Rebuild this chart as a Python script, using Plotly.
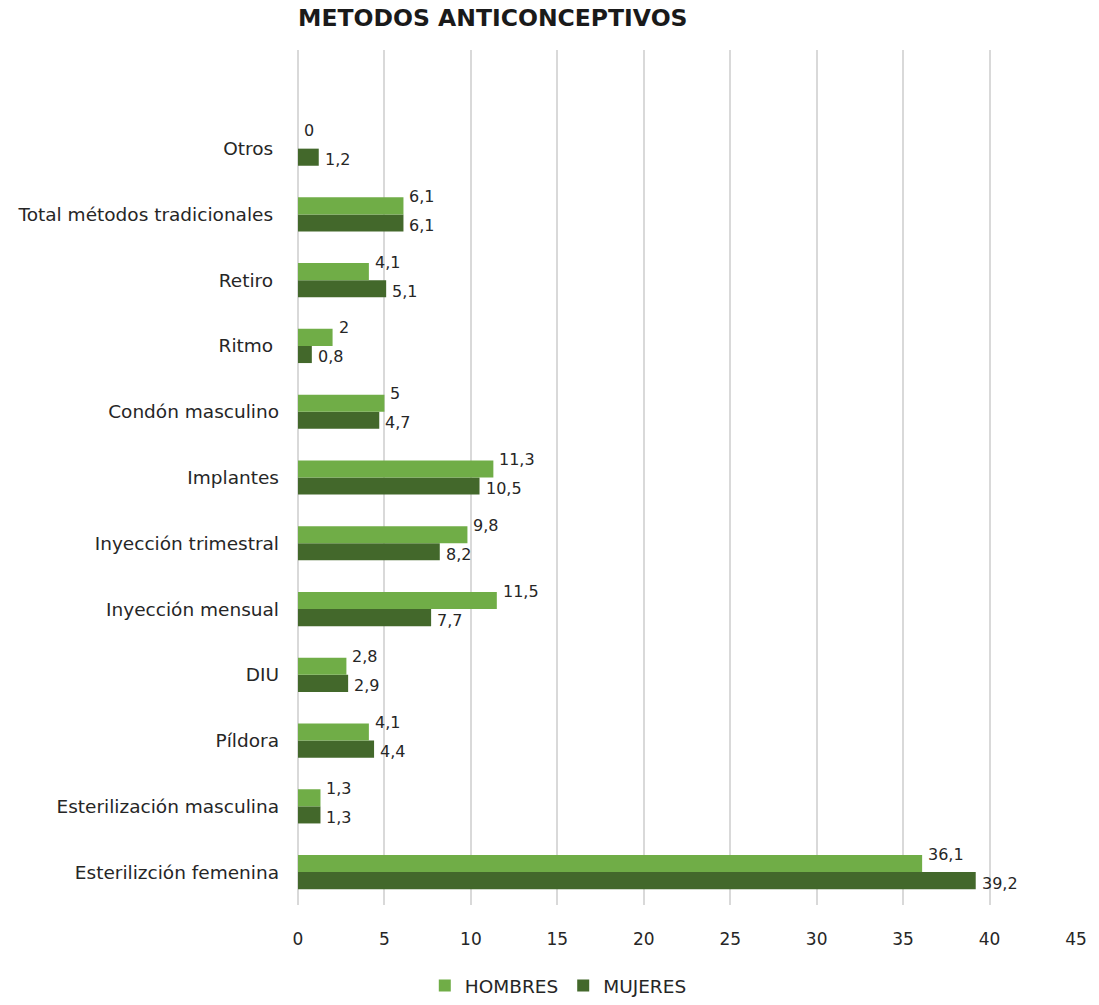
import plotly.graph_objects as go

# Categories listed bottom-to-top as they appear on the chart
categorias = [
    "Esterilizción femenina",
    "Esterilización masculina",
    "Píldora",
    "DIU",
    "Inyección mensual",
    "Inyección trimestral",
    "Implantes",
    "Condón masculino",
    "Ritmo\u00a0",
    "Retiro\u00a0",
    "Total métodos tradicionales\u00a0",
    "Otros\u00a0",
]
hombres = [36.1, 1.3, 4.1, 2.8, 11.5, 9.8, 11.3, 5, 2, 4.1, 6.1, 0]
mujeres = [39.2, 1.3, 4.4, 2.9, 7.7, 8.2, 10.5, 4.7, 0.8, 5.1, 6.1, 1.2]
x_ticks = [0, 5, 10, 15, 20, 25, 30, 35, 40, 45]

COLOR_H = "#70AD47"
COLOR_M = "#43682B"
TEXT = "#262626"
FONT = "'DejaVu Sans', sans-serif"
FS_VAL = 16
FS_CAT = 18.5


def fmt(v):
    return f"{v:g}".replace(".", ",")


fig = go.Figure()

# Mujeres first so that it sits below Hombres within each group
fig.add_trace(go.Bar(
    name="MUJERES", y=categorias, x=mujeres, orientation="h",
    marker=dict(color=COLOR_M, line=dict(width=0)),
    legendrank=2,
))
fig.add_trace(go.Bar(
    name="HOMBRES", y=categorias, x=hombres, orientation="h",
    marker=dict(color=COLOR_H, line=dict(width=0)),
    legendrank=1,
))

# Value labels just past the end of each bar
annotations = []
for cat, h, m in zip(categorias, hombres, mujeres):
    annotations.append(dict(
        x=h, y=cat, text=fmt(h), showarrow=False,
        xanchor="left", yanchor="middle", xshift=4, yshift=18,
        font=dict(size=FS_VAL, color=TEXT, family=FONT),
    ))
    annotations.append(dict(
        x=m, y=cat, text=fmt(m), showarrow=False,
        xanchor="left", yanchor="middle", xshift=4, yshift=-11,
        font=dict(size=FS_VAL, color=TEXT, family=FONT),
    ))

fig.update_layout(
    width=1099, height=1005,
    barmode="group", bargap=0.48, bargroupgap=0,
    plot_bgcolor="white", paper_bgcolor="white",
    separators=",.",
    font=dict(family=FONT, size=FS_VAL, color=TEXT),
    margin=dict(l=298, r=20, t=50, b=100),
    title=dict(
        text="<b>METODOS ANTICONCEPTIVOS</b>",
        x=298 / 1099, xanchor="left", xref="container",
        y=1 - 18 / 1005, yanchor="middle", yref="container",
        font=dict(size=23.5, color="#1a1a1a", family=FONT),
    ),
    legend=dict(
        orientation="h", xref="container", yref="container",
        x=0.508, xanchor="center", y=-0.013, yanchor="bottom",
        font=dict(size=18.5, color=TEXT, family=FONT),
        itemwidth=30, tracegroupgap=0,
    ),
    annotations=annotations,
    showlegend=True,
)

fig.update_xaxes(
    range=[0, 45], tickvals=x_ticks,
    showgrid=True, gridcolor="#D9D9D9", gridwidth=2,
    zeroline=True, zerolinecolor="#D9D9D9", zerolinewidth=2,
    showline=False,
    ticks="", ticklabelstandoff=22,
    tickfont=dict(size=FS_VAL + 1, color=TEXT, family=FONT),
)
fig.update_yaxes(
    type="category", categoryorder="array", categoryarray=categorias,
    range=[-0.5, 12.5],
    showgrid=False, zeroline=False, showline=False,
    ticks="", ticklabelstandoff=18,
    tickfont=dict(size=FS_CAT, color=TEXT, family=FONT),
)

fig.write_html("out.html")
